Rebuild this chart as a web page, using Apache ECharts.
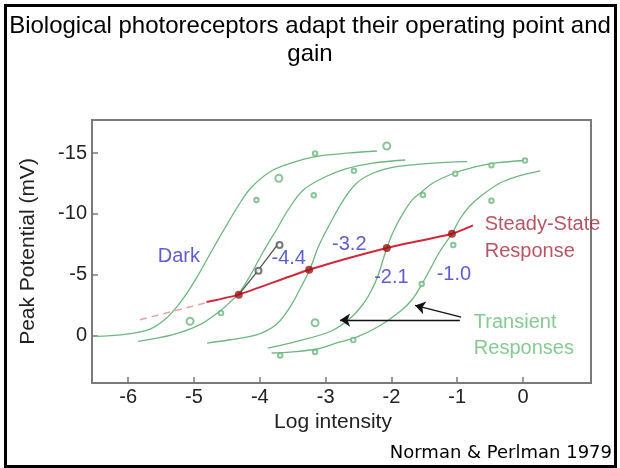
<!DOCTYPE html>
<html>
<head>
<meta charset="utf-8">
<script src="https://cdn.jsdelivr.net/npm/echarts@6/dist/echarts.min.js"></script>
<style>
html,body{margin:0;padding:0;background:#fff;}
#chart{width:620px;height:468px;}
</style>
</head>
<body>
<div id="chart"></div>
<script>
// ---- data (log intensity, peak potential in mV) ----
const xTicks = [-6, -5, -4, -3, -2, -1, 0];
const yTicks = [-15, -10, -5, 0];

const curveDark = [[-6.50,0.07],[-6.08,-0.08],[-5.67,-0.53],[-5.40,-1.52],[-5.18,-2.92],[-4.97,-4.65],[-4.74,-6.87],[-4.53,-8.84],[-4.33,-10.65],[-4.15,-12.05],[-3.85,-13.45],[-3.54,-14.15],[-3.13,-14.72],[-2.63,-15.01],[-2.22,-15.17]];
const curve44 = [[-5.85,0.48],[-5.32,-0.07],[-4.91,-0.89],[-4.61,-1.99],[-4.45,-2.75],[-4.32,-3.45],[-4.15,-4.89],[-3.95,-6.87],[-3.74,-8.76],[-3.57,-10.32],[-3.34,-11.96],[-3.01,-13.03],[-2.71,-13.69],[-2.33,-14.14],[-1.79,-14.43]];
const curve32 = [[-4.80,0.62],[-4.45,0.35],[-4.04,-0.07],[-3.74,-0.95],[-3.54,-2.34],[-3.39,-3.82],[-3.24,-5.43],[-3.11,-7.30],[-2.93,-9.23],[-2.73,-11.14],[-2.53,-12.52],[-2.28,-13.34],[-1.92,-13.88],[-1.41,-14.16],[-0.85,-14.29]];
const curve21 = [[-3.88,1.03],[-3.54,0.62],[-2.93,-0.33],[-2.63,-1.40],[-2.43,-2.59],[-2.30,-3.74],[-2.20,-4.98],[-2.07,-7.20],[-1.96,-8.68],[-1.81,-10.16],[-1.67,-11.23],[-1.54,-11.80],[-1.37,-12.54],[-1.08,-13.28],[-0.73,-13.86],[-0.40,-14.19],[0.02,-14.39]];
const curve10 = [[-3.82,1.44],[-3.54,1.36],[-3.13,1.11],[-2.78,0.53],[-2.52,0.12],[-2.17,-0.82],[-1.87,-1.97],[-1.69,-2.92],[-1.54,-4.19],[-1.41,-5.47],[-1.26,-6.95],[-1.08,-8.37],[-0.96,-9.58],[-0.81,-10.65],[-0.62,-11.55],[-0.35,-12.54],[-0.12,-13.03],[0.26,-13.53]];

const pointsSmall = [[-4.05,-11.14],[-3.16,-14.97],[-4.59,-1.85],[-3.18,-11.53],[-2.57,-13.54],[-1.03,-13.30],[-0.48,-14.00],[0.03,-14.38],[-1.52,-11.55],[-3.69,1.64],[-3.16,1.36],[-2.58,0.37],[-1.54,-4.24],[-1.06,-7.44],[-0.48,-11.09]];
const pointsLarge = [[-3.71,-12.93],[-2.07,-15.58],[-5.06,-1.17],[-3.16,-1.05]];

const darkTrace = [[-4.32,-3.36],[-4.02,-5.40],[-3.71,-7.61]];
const darkTracePoints = [[-4.02,-5.33],[-3.70,-7.44]];

const steadyLine = [[-4.81,-2.75],[-4.32,-3.36],[-3.25,-5.41],[-2.07,-7.20],[-1.08,-8.37],[-0.76,-9.06]];
const steadyDots = [[-4.32,-3.36],[-3.25,-5.41],[-2.07,-7.20],[-1.08,-8.37]];
const steadyDashed = [[-5.82,-1.30],[-4.83,-2.67]];

const arrowFrom = [[-0.96,-1.27],[-0.94,-1.52]];
const arrowTo = [[-2.78,-1.27],[-1.64,-2.47]];

const levelText = ['Dark', '-4.4', '-3.2', '-2.1', '-1.0'];
const levelX = [-5.23, -3.56, -2.64, -2.00, -1.05];
const levelY = [-6.50, -6.31, -7.48, -4.79, -5.00];
const steadyText = ['Steady-State', 'Response'];
const steadyTextX = [-0.59, -0.59];
const steadyTextY = [-9.09, -6.87];
const transText = ['Transient', 'Responses'];
const transTextX = [-0.755, -0.755];
const transTextY = [-1.11, 1.07];

// ---- styles ----
const FONT = 'Liberation Sans, Arial, Helvetica, sans-serif';
const GREEN = '#6db77f';
const AXIS = '#7a7a7a';

function curveSeries(data) {
  return {type:'line', data:data, smooth:0.35, symbol:'none',
    lineStyle:{color:GREEN, width:1.3}, z:3, silent:true};
}
function textSeries(texts, xs, ys, color, pos) {
  return {type:'scatter', symbol:'circle', symbolSize:1,
    itemStyle:{color:'transparent'}, silent:true, z:10,
    data: texts.map((t,i)=>[xs[i], ys[i], t]),
    label:{show:true, position:pos, distance:0, formatter:p=>p.data[2],
      color:color, fontSize:20, fontFamily:FONT}};
}

const chart = echarts.init(document.getElementById('chart'), null, {renderer:'canvas'});
chart.setOption({
  animation:false,
  backgroundColor:'#fff',
  title:{text:'Biological photoreceptors adapt their operating point and\ngain',
    left:'center', top:7,
    textStyle:{fontFamily:FONT, fontSize:24, fontWeight:'normal', color:'#000', lineHeight:28}},
  grid:{left:92, right:29, top:120, bottom:85, show:true, borderColor:AXIS, borderWidth:2, backgroundColor:'#fff'},
  xAxis:{type:'value', min:-6.55, max:1.033,
    name:'Log intensity', nameLocation:'middle', nameGap:27,
    nameTextStyle:{fontFamily:FONT, fontSize:21, color:'#222', padding:[0,17,0,0]},
    axisLine:{show:true, onZero:false, lineStyle:{color:AXIS, width:2}},
    axisTick:{show:true, inside:true, length:6, customValues:xTicks, lineStyle:{color:AXIS, width:1.5}},
    axisLabel:{customValues:xTicks, fontFamily:FONT, fontSize:20, color:'#222', margin:4},
    splitLine:{show:false}},
  yAxis:{type:'value', inverse:true, min:-17.72, max:3.906,
    name:'Peak Potential (mV)', nameLocation:'middle', nameGap:53,
    nameTextStyle:{fontFamily:FONT, fontSize:21, color:'#222'},
    axisLine:{show:true, onZero:false, lineStyle:{color:AXIS, width:2}},
    axisTick:{show:true, inside:true, length:6, customValues:yTicks, lineStyle:{color:AXIS, width:1.5}},
    axisLabel:{customValues:yTicks, fontFamily:FONT, fontSize:20, color:'#222', margin:5},
    splitLine:{show:false}},
  series:[
    curveSeries(curveDark), curveSeries(curve44), curveSeries(curve32), curveSeries(curve21), curveSeries(curve10),
    {type:'scatter', data:pointsSmall, symbol:'emptyCircle', symbolSize:4.5,
      itemStyle:{color:GREEN, borderColor:GREEN, borderWidth:1}, z:4, silent:true},
    {type:'scatter', data:pointsLarge, symbol:'emptyCircle', symbolSize:7,
      itemStyle:{color:GREEN, borderColor:GREEN, borderWidth:1.2}, z:4, silent:true},
    {type:'line', data:steadyDashed, symbol:'none', lineStyle:{color:'#e9a3a6', width:1.6, type:[7,5]}, z:5, silent:true},
    {type:'line', data:darkTrace, smooth:0.3, symbol:'none', lineStyle:{color:'#555', width:1.3}, z:5, silent:true},
    {type:'scatter', data:darkTracePoints, symbol:'emptyCircle', symbolSize:6,
      itemStyle:{color:'#555', borderColor:'#555', borderWidth:1.3}, z:6, silent:true},
    {type:'line', data:steadyLine, smooth:0.2, symbol:'none', lineStyle:{color:'#d0283a', width:2}, z:6, silent:true},
    {type:'scatter', data:steadyDots, symbol:'circle', symbolSize:8,
      itemStyle:{color:'#9c1416'}, z:7, silent:true},
    {type:'lines', coordinateSystem:'cartesian2d', silent:true, z:8,
      symbol:['none','arrow'], symbolSize:10,
      lineStyle:{color:'#111', width:1.3, opacity:1},
      data: arrowFrom.map((f,i)=>({coords:[f, arrowTo[i]]}))},
    textSeries(levelText, levelX, levelY, '#3535c8', 'inside'),
    textSeries(steadyText, steadyTextX, steadyTextY, '#a82a3c', 'right'),
    textSeries(transText, transTextX, transTextY, '#66bd74', 'right')
  ],
  graphic:[
    {type:'rect', shape:{x:5.5, y:5.5, width:610, height:461}, style:{fill:'none', stroke:'#000', lineWidth:3}, z:100, silent:true},
    {type:'text', right:8, top:444, style:{text:'Norman & Perlman 1979', fontFamily:'Comic Sans MS, DejaVu Sans, sans-serif', fontSize:18, fill:'#000'}, z:100, silent:true}
  ]
});
</script>
</body>
</html>
